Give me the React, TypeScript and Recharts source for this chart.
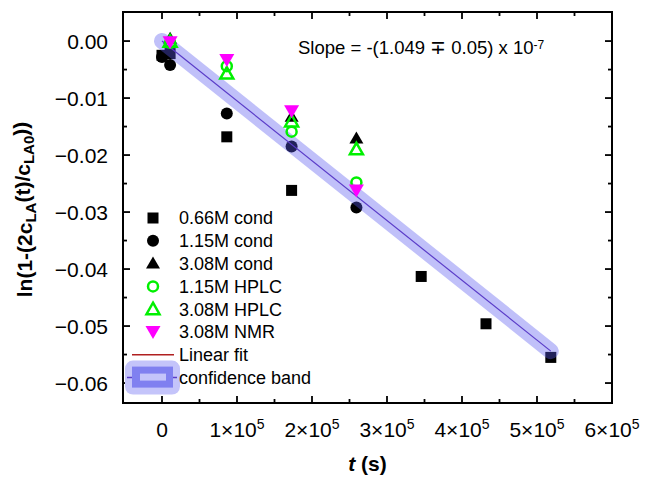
import React from 'react';
import { ScatterChart, Scatter, XAxis, YAxis, ReferenceArea, Legend } from 'recharts';

// ---- data (t in s, value = ln(1-(2cLA(t)/cLA0))) ----
const t066 = [0, 10800, 86400, 172800, 345600, 432000, 518400];
const v066 = [-0.0025, -0.0022, -0.0168, -0.0262, -0.0413, -0.0496, -0.0555];

const t115 = [0, 10800, 86400, 172800, 259200];
const v115 = [-0.0028, -0.0042, -0.0127, -0.0185, -0.0292];

const t308 = [10800, 172800, 259200];
const v308 = [0.0004, -0.0133, -0.0171];

const tH115 = [10800, 86400, 172800, 259200];
const vH115 = [-0.0003, -0.0044, -0.0159, -0.0248];

const tH308 = [10800, 86400, 172800, 259200];
const vH308 = [-0.0001, -0.0057, -0.0141, -0.0190];

const tNMR = [10800, 86400, 172800, 259200];
const vNMR = [-0.0002, -0.0033, -0.0123, -0.0262];

const tFit = [0, 518400];
const vFit = [0, -0.0544];

const xMajor = [0, 100000, 200000, 300000, 400000, 500000, 600000];
const xMinor = [50000, 150000, 250000, 350000, 450000, 550000];
const yMajor = [0, -0.01, -0.02, -0.03, -0.04, -0.05, -0.06];
const yMinor = [-0.005, -0.015, -0.025, -0.035, -0.045, -0.055];

const legendLabels = ['0.66M cond', '1.15M cond', '3.08M cond', '1.15M HPLC', '3.08M HPLC', '3.08M NMR', 'Linear fit', 'confidence band'];

const toPts = (ts: number[], vs: number[]) => ts.map((t, i) => ({ t, v: vs[i] }));

// ---- layout ----
const W = 647;
const H = 480;
const MARGIN = { top: 12, right: 35, bottom: 17, left: 30 };
const Y_W = 93;
const X_H = 60;
const PLOT_L = MARGIN.left + Y_W;
const PLOT_R = W - MARGIN.right;
const PLOT_T = MARGIN.top;
const PLOT_B = H - MARGIN.bottom - X_H;
const FONT = '"Liberation Sans", Arial, sans-serif';
const GREEN = '#00f000';
const MAGENTA = '#ff00ff';
const BAND = 'rgb(90,90,240)';
const FITLINE = '#5a3cc8';

const xTicks = [...xMajor, ...xMinor].sort((a, b) => a - b);
const yTicks = [...yMajor, ...yMinor].sort((a, b) => a - b);

const XTick = (props: any) => {
  const { x, y, payload } = props;
  const v = payload.value;
  const major = xMajor.includes(v);
  const len = major ? 7 : 4;
  return (
    <g>
      <line x1={x} x2={x} y1={PLOT_B} y2={PLOT_B - len} stroke="#000" strokeWidth={1.8} />
      <line x1={x} x2={x} y1={PLOT_T} y2={PLOT_T + len} stroke="#000" strokeWidth={1.8} />
      {major && (
        <text x={x} y={y + 19} dy="0.71em" textAnchor="middle" fontFamily={FONT} fontSize={21} fill="#000">
          {v === 0 ? '0' : `${v / 100000}×10`}
          {v !== 0 && <tspan dy="-0.55em" fontSize={14}>5</tspan>}
        </text>
      )}
    </g>
  );
};

const YTick = (props: any) => {
  const { x, y, payload } = props;
  const v = payload.value;
  const major = yMajor.some((m) => Math.abs(m - v) < 1e-9);
  const len = major ? 7 : 4;
  const label = Math.abs(v) < 1e-9 ? '0.00' : `\u2212${Math.abs(v).toFixed(2)}`;
  return (
    <g>
      <line x1={PLOT_L} x2={PLOT_L + len} y1={y} y2={y} stroke="#000" strokeWidth={1.8} />
      <line x1={PLOT_R} x2={PLOT_R - len} y1={y} y2={y} stroke="#000" strokeWidth={1.8} />
      {major && (
        <text x={x - 15} y={y} dy="0.36em" textAnchor="end" fontFamily={FONT} fontSize={21} fill="#000">
          {label}
        </text>
      )}
    </g>
  );
};

const Square = (p: any) => <rect x={p.cx - 5.5} y={p.cy - 5.5} width={11} height={11} fill="#000" />;
const Dot = (p: any) => <circle cx={p.cx} cy={p.cy} r={6} fill="#000" />;
const Tri = (p: any) => (
  <polygon points={`${p.cx},${p.cy - 7} ${p.cx + 7},${p.cy + 5} ${p.cx - 7},${p.cy + 5}`} fill="#000" />
);
const OpenDot = (p: any) => <circle cx={p.cx} cy={p.cy} r={5} fill="none" stroke={GREEN} strokeWidth={2.5} />;
const OpenTri = (p: any) => (
  <polygon
    points={`${p.cx},${p.cy - 6.5} ${p.cx + 6.5},${p.cy + 5} ${p.cx - 6.5},${p.cy + 5}`}
    fill="none"
    stroke={GREEN}
    strokeWidth={2.5}
    strokeLinejoin="miter"
  />
);
const InvTri = (p: any) => (
  <polygon points={`${p.cx - 7.5},${p.cy - 6} ${p.cx + 7.5},${p.cy - 6} ${p.cx},${p.cy + 7}`} fill={MAGENTA} />
);
const NoShape = () => <g />;

const markerIcons = [
  (cx: number, cy: number) => <Square cx={cx} cy={cy} />,
  (cx: number, cy: number) => <Dot cx={cx} cy={cy} />,
  (cx: number, cy: number) => <Tri cx={cx} cy={cy} />,
  (cx: number, cy: number) => <OpenDot cx={cx} cy={cy} />,
  (cx: number, cy: number) => <OpenTri cx={cx} cy={cy} />,
  (cx: number, cy: number) => <InvTri cx={cx} cy={cy} />,
];

const LegendBox = () => {
  const rowH = 22.8;
  const y0 = 18;
  return (
    <svg width={200} height={200} style={{ display: 'block', overflow: 'visible' }}>
      {legendLabels.map((lab, i) => {
        const cy = y0 + i * rowH;
        let icon: React.ReactNode = null;
        if (i < 6) icon = markerIcons[i](33, cy);
        else if (i === 6) icon = <line x1={12} x2={54} y1={cy} y2={cy} stroke="#b02020" strokeWidth={1.5} />;
        else
          icon = (
            <g>
              <rect x={5} y={cy - 17} width={55} height={34} rx={8} fill="rgb(196,196,250)" />
              <line x1={7} x2={57} y1={cy} y2={cy} stroke={FITLINE} strokeWidth={1.5} />
              <rect x={12} y={cy - 11} width={41} height={21} fill="rgb(128,128,240)" />
              <rect x={20} y={cy - 4} width={26} height={7} fill="rgb(196,196,250)" />
            </g>
          );
        return (
          <g key={lab}>
            {icon}
            <text x={59} y={cy} dy="0.36em" fontFamily={FONT} fontSize={18} fill="#000">
              {lab}
            </text>
          </g>
        );
      })}
    </svg>
  );
};

const XLabel = (props: any) => {
  const vb = props.viewBox;
  return (
    <text x={vb.x + vb.width / 2} y={PLOT_B + 68} textAnchor="middle" fontFamily={FONT} fontSize={21} fontWeight="bold" fill="#000">
      <tspan fontStyle="italic">t</tspan> (s)
    </text>
  );
};

const YLabel = () => {
  const cx = 24;
  const cy = (PLOT_T + PLOT_B) / 2 + 2;
  return (
    <text
      x={cx}
      y={cy}
      transform={`rotate(-90, ${cx}, ${cy})`}
      textAnchor="middle"
      dy="0.36em"
      fontFamily={FONT}
      fontSize={21}
      fontWeight="bold"
      fill="#000"
    >
      ln(1-(2c
      <tspan dy="0.3em" fontSize={15}>LA</tspan>
      <tspan dy="-0.3em">(t)/c</tspan>
      <tspan dy="0.3em" fontSize={15}>LA0</tspan>
      <tspan dy="-0.3em">))</tspan>
    </text>
  );
};

export default function App() {
  return (
    <div style={{ position: 'absolute', left: 0, top: 0, width: W, height: H, background: '#fff' }}>
      <ScatterChart width={W} height={H} margin={MARGIN}>
        <XAxis
          type="number"
          dataKey="t"
          domain={[-52000, 600000]}
          allowDataOverflow
          ticks={xTicks}
          interval={0}
          tick={<XTick />}
          tickLine={false}
          tickSize={0}
          tickMargin={0}
          height={X_H}
          axisLine={{ stroke: '#000', strokeWidth: 2 }}
          label={<XLabel />}
        />
        <YAxis
          type="number"
          dataKey="v"
          domain={[-0.0635, 0.0051]}
          allowDataOverflow
          ticks={yTicks}
          interval={0}
          tick={<YTick />}
          tickLine={false}
          tickSize={0}
          tickMargin={0}
          width={Y_W}
          axisLine={{ stroke: '#000', strokeWidth: 2 }}
        />
        <ReferenceArea x1={-52000} x2={600000} y1={-0.0635} y2={0.0051} fill="none" fillOpacity={0} stroke="#000" strokeWidth={2} />
        <Scatter name="0.66M cond" data={toPts(t066, v066)} shape={Square} isAnimationActive={false} />
        <Scatter name="1.15M cond" data={toPts(t115, v115)} shape={Dot} isAnimationActive={false} />
        <Scatter name="3.08M cond" data={toPts(t308, v308)} shape={Tri} isAnimationActive={false} />
        <Scatter
          name="confidence band"
          data={toPts(tFit, vFit)}
          shape={NoShape}
          line={{ stroke: BAND, strokeOpacity: 0.38, strokeWidth: 16, strokeLinecap: 'round' }}
          isAnimationActive={false}
        />
        <Scatter
          name="Linear fit"
          data={toPts(tFit, vFit)}
          shape={NoShape}
          line={{ stroke: FITLINE, strokeWidth: 1.2 }}
          isAnimationActive={false}
        />
        <Scatter name="1.15M HPLC" data={toPts(tH115, vH115)} shape={OpenDot} isAnimationActive={false} />
        <Scatter name="3.08M HPLC" data={toPts(tH308, vH308)} shape={OpenTri} isAnimationActive={false} />
        <Scatter name="3.08M NMR" data={toPts(tNMR, vNMR)} shape={InvTri} isAnimationActive={false} />
        <Legend
          layout="vertical"
          align="center"
          verticalAlign="middle"
          wrapperStyle={{ left: 120, top: 200, width: 200, height: 200 }}
          content={<LegendBox />}
        />
      </ScatterChart>
      <svg width={W} height={H} style={{ position: 'absolute', left: 0, top: 0, pointerEvents: 'none' }}>
        <YLabel />
        <text x={298} y={54} fontFamily={FONT} fontSize={18.5} fill="#000">
          Slope = -(1.049 {'\u2213'} 0.05) x 10
          <tspan dy="-0.45em" fontSize={12}>-7</tspan>
        </text>
      </svg>
    </div>
  );
}
